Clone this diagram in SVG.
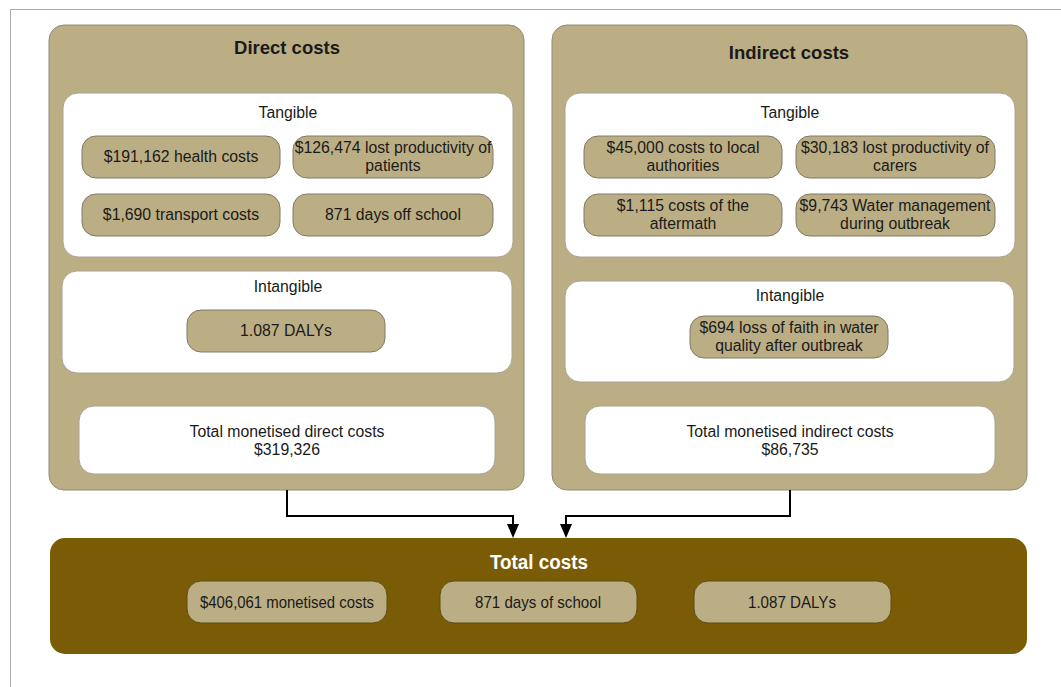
<svg xmlns="http://www.w3.org/2000/svg" width="1061" height="687" viewBox="0 0 1061 687">
<defs>
<style>
text{font-family:"Liberation Sans",Arial,sans-serif;fill:#1a1a1a;text-anchor:middle}
.panel{fill:#bcae84;stroke:#8f8a78;stroke-width:1}
.sub{fill:#ffffff;stroke:#a8a494;stroke-width:1}
.pill{fill:#bcae84;stroke:#7f7a68;stroke-width:1}
.h{font-size:18.5px;font-weight:bold}
.t{font-size:15.8px}
.n{font-size:17px}
.conn{fill:none;stroke:#000;stroke-width:2}
</style>
</defs>
<rect width="1061" height="687" fill="#fff"/>
<path d="M1061,9.5 H10.5 V687" fill="none" stroke="#a9a9a9" stroke-width="1"/>

<g id="direct">
<rect class="panel" x="49" y="25" width="475" height="465" rx="15"/>
<text class="h" x="287" y="54">Direct costs</text>
<g id="direct-tangible">
<rect class="sub" x="63" y="93" width="450" height="164" rx="15"/>
<text class="t" x="288" y="118">Tangible</text>
<rect class="pill" x="82" y="136" width="198" height="42" rx="14"/>
<text class="t" x="181" y="162">$191,162 health costs</text>
<rect class="pill" x="293" y="136" width="200" height="42" rx="14"/>
<text class="t" x="393" y="153">$126,474 lost productivity of</text>
<text class="t" x="393" y="171">patients</text>
<rect class="pill" x="82" y="194" width="198" height="42" rx="14"/>
<text class="t" x="181" y="220">$1,690 transport costs</text>
<rect class="pill" x="293" y="194" width="200" height="42" rx="14"/>
<text class="t" x="393" y="220">871 days off school</text>
</g>
<g id="direct-intangible">
<rect class="sub" x="62" y="271" width="450" height="102" rx="15"/>
<text class="t" x="288" y="292">Intangible</text>
<rect class="pill" x="187" y="310" width="198" height="42" rx="14"/>
<text class="t" x="286" y="336">1.087 DALYs</text>
</g>
<g id="direct-total">
<rect class="sub" x="79" y="406" width="416" height="68" rx="15"/>
<text class="t" x="287" y="437">Total monetised direct costs</text>
<text class="t" x="287" y="455">$319,326</text>
</g>
</g>

<g id="indirect">
<rect class="panel" x="552" y="25" width="475" height="465" rx="15"/>
<text class="h" x="789" y="59">Indirect costs</text>
<g id="indirect-tangible">
<rect class="sub" x="565" y="93" width="450" height="164" rx="15"/>
<text class="t" x="790" y="118">Tangible</text>
<rect class="pill" x="584" y="136" width="198" height="42" rx="14"/>
<text class="t" x="683" y="153">$45,000 costs to local</text>
<text class="t" x="683" y="171">authorities</text>
<rect class="pill" x="796" y="136" width="199" height="42" rx="14"/>
<text class="t" x="895" y="153">$30,183 lost productivity of</text>
<text class="t" x="895" y="171">carers</text>
<rect class="pill" x="584" y="194" width="198" height="42" rx="14"/>
<text class="t" x="683" y="211">$1,115 costs of the</text>
<text class="t" x="683" y="229">aftermath</text>
<rect class="pill" x="796" y="194" width="199" height="42" rx="14"/>
<text class="t" x="895" y="211">$9,743 Water management</text>
<text class="t" x="895" y="229">during outbreak</text>
</g>
<g id="indirect-intangible">
<rect class="sub" x="565" y="281" width="449" height="101" rx="15"/>
<text class="t" x="790" y="301">Intangible</text>
<rect class="pill" x="690" y="316" width="198" height="42" rx="14"/>
<text class="t" x="789" y="333">$694 loss of faith in water</text>
<text class="t" x="789" y="351">quality after outbreak</text>
</g>
<g id="indirect-total">
<rect class="sub" x="585" y="406" width="410" height="68" rx="15"/>
<text class="t" x="790" y="437">Total monetised indirect costs</text>
<text class="t" x="790" y="455">$86,735</text>
</g>
</g>

<g id="connectors">
<path class="conn" d="M287,490 V516 H513 V526"/>
<path d="M507,524 L519,524 L513,538 Z" fill="#000"/>
<path class="conn" d="M790,490 V516 H566 V526"/>
<path d="M560,524 L572,524 L566,538 Z" fill="#000"/>
</g>

<g id="total">
<rect x="50" y="538" width="977" height="116" rx="15" fill="#7b5c06"/>
<text class="h" x="539" y="569" style="fill:#ffffff;font-size:19.5px" textLength="98" lengthAdjust="spacingAndGlyphs">Total costs</text>
<rect class="pill" x="187" y="581" width="200" height="42" rx="14" style="stroke:#5e4a10"/>
<text class="n" x="287" y="608" textLength="174" lengthAdjust="spacingAndGlyphs">$406,061 monetised costs</text>
<rect class="pill" x="440" y="581" width="197" height="42" rx="14" style="stroke:#5e4a10"/>
<text class="n" x="538" y="608" textLength="126" lengthAdjust="spacingAndGlyphs">871 days of school</text>
<rect class="pill" x="694" y="581" width="197" height="42" rx="14" style="stroke:#5e4a10"/>
<text class="n" x="792" y="608" textLength="88" lengthAdjust="spacingAndGlyphs">1.087 DALYs</text>
</g>
</svg>
